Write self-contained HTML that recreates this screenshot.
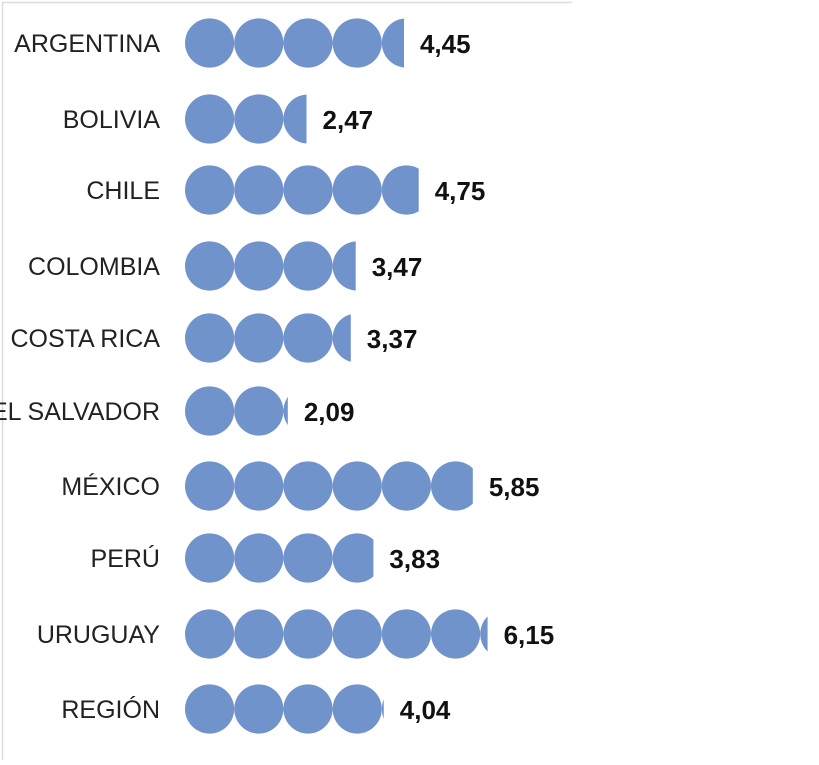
<!DOCTYPE html>
<html><head><meta charset="utf-8"><style>
body{margin:0;background:#fff;width:819px;height:760px;overflow:hidden}
svg text{font-family:"Liberation Sans Narrow","Liberation Sans",sans-serif}
</style></head><body>
<svg id="chart" width="819" height="760" xmlns="http://www.w3.org/2000/svg">
<line x1="2" y1="2.5" x2="572" y2="2.5" stroke="#ddd" stroke-width="1.5"/>
<line x1="2.5" y1="2" x2="2.5" y2="760" stroke="#ddd" stroke-width="1.5"/>
<g id="rows"></g>
</svg>
<script>
const countries=["ARGENTINA","BOLIVIA","CHILE","COLOMBIA","COSTA RICA","EL SALVADOR","MÉXICO","PERÚ","URUGUAY","REGIÓN"];
const values=[4.45,2.47,4.75,3.47,3.37,2.09,5.85,3.83,6.15,4.04];
const valueLabels=["4,45","2,47","4,75","3,47","3,37","2,09","5,85","3,83","6,15","4,04"];
const rowY=[43,119,190,266,338,411,486,558,634,709];
const NS="http://www.w3.org/2000/svg";
const x0=185,d=49.2,r=24.6;
const xScale=v=>x0+v*d;
const g=document.getElementById('rows');
countries.forEach((c,i)=>{
  const y=rowY[i];
  const row=document.createElementNS(NS,'g');
  
  
  const lab=document.createElementNS(NS,'text');
  
  
  lab.setAttribute('x',160);lab.setAttribute('y',y+9);
  lab.setAttribute('text-anchor','end');lab.setAttribute('font-size','25');
  lab.setAttribute('fill','#222');lab.textContent=c;row.appendChild(lab);
  const cp=document.createElementNS(NS,'clipPath');cp.setAttribute('id','cp'+i);
  const rc=document.createElementNS(NS,'rect');
  rc.setAttribute('x',x0);rc.setAttribute('y',y-30);
  rc.setAttribute('width',xScale(values[i])-x0);rc.setAttribute('height',60);
  cp.appendChild(rc);row.appendChild(cp);
  const dots=document.createElementNS(NS,'g');
  dots.setAttribute('clip-path','url(#cp'+i+')');
  
  
  for(let k=0;k<Math.ceil(values[i]);k++){
    const ci=document.createElementNS(NS,'circle');
    
    
    ci.setAttribute('cx',x0+k*d+r);ci.setAttribute('cy',y);ci.setAttribute('r',r);
    ci.setAttribute('fill','#7093cc');dots.appendChild(ci);
  }
  row.appendChild(dots);
  const vl=document.createElementNS(NS,'text');
  
  
  vl.setAttribute('x',xScale(values[i])+16);vl.setAttribute('y',y+10);
  vl.setAttribute('font-size','26');vl.setAttribute('font-weight','bold');
  vl.setAttribute('fill','#111');vl.textContent=valueLabels[i];row.appendChild(vl);
  g.appendChild(row);
});
</script>
</body></html>
